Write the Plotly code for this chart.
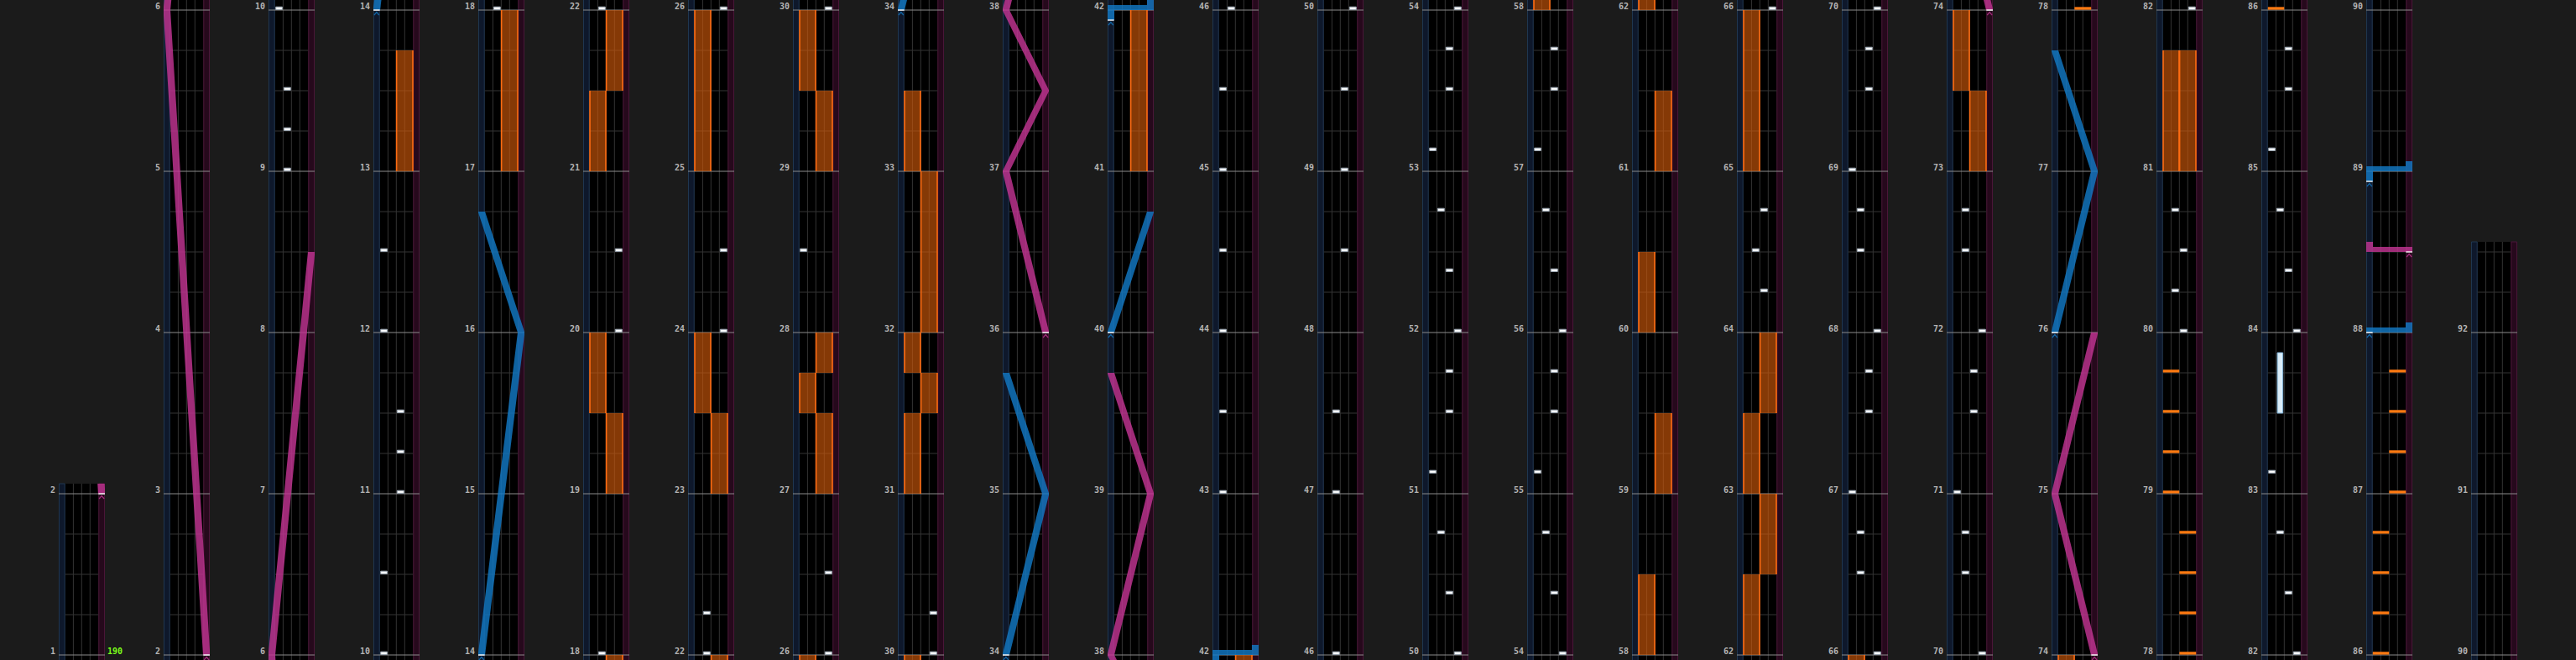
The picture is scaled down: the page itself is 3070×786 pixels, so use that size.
import plotly.graph_objects as go

# ------------------------------------------------------------------ data
col_first = [1, 2, 6, 10, 14, 18, 22, 26, 30, 34, 38, 42, 46, 50, 54, 58, 62, 66, 70, 74, 78, 82, 86, 90]
col_last = [2, 6, 10, 14, 18, 22, 26, 30, 34, 38, 42, 46, 50, 54, 58, 62, 66, 70, 74, 78, 82, 86, 90, 92]
col_lane_top = [2.0625] + [None] * 22 + [92.5625]

bpm_changes = [(1.0, "190")]

bt_chips = [
    (9.0, "B"), (9.25, "B"), (9.5, "B"), (10.0, "A"),
    (10.5, "A"), (11.0, "C"), (11.25, "C"), (11.5, "C"), (12.0, "A"), (12.5, "A"),
    (18.0, "B"), (20.0, "D"), (20.5, "D"), (22.0, "B"), (22.25, "B"),
    (24.0, "D"), (24.5, "D"),
    (26.0, "D"), (26.5, "D"), (28.5, "A"), (30.0, "D"), (30.25, "D"),
    (43.0, "A"), (43.5, "A"), (44.0, "A"), (44.5, "A"),
    (45.0, "A"), (45.5, "A"), (46.0, "B"),
    (47.0, "B"), (47.5, "B"), (48.5, "C"), (49.0, "C"), (49.5, "C"), (50.0, "D"),
    (50.375, "C"), (50.75, "B"), (51.125, "A"), (51.5, "C"), (51.75, "C"), (52.0, "D"),
    (52.375, "C"), (52.75, "B"), (53.125, "A"), (53.5, "C"), (53.75, "C"), (54.0, "D"),
    (54.375, "C"), (54.75, "B"), (55.125, "A"), (55.5, "C"), (55.75, "C"), (56.0, "D"),
    (56.375, "C"), (56.75, "B"), (57.125, "A"), (57.5, "C"), (57.75, "C"),
    (64.25, "C"), (64.5, "B"), (64.75, "C"), (66.0, "D"),
    (66.5, "B"), (66.75, "B"), (67.0, "A"), (67.5, "C"), (67.75, "C"), (68.0, "D"),
    (68.5, "B"), (68.75, "B"), (69.0, "A"), (69.5, "C"), (69.75, "C"), (70.0, "D"),
    (70.5, "B"), (70.75, "B"), (71.0, "A"), (71.5, "C"), (71.75, "C"), (72.0, "D"),
    (72.5, "B"), (72.75, "B"),
    (80.0, "C"), (80.25, "B"), (80.5, "C"), (80.75, "B"),
    (82.0, "D"), (82.375, "C"), (82.75, "B"), (83.125, "A"), (84.0, "D"),
    (84.375, "C"), (84.75, "B"), (85.125, "A"), (85.5, "C"), (85.75, "C"),
]
fx_chips = [
    (78.0, "R"), (78.25, "R"), (78.5, "R"), (78.75, "R"),
    (79.0, "L"), (79.25, "L"), (79.5, "L"), (79.75, "L"),
    (86.0, "L"), (86.25, "L"), (86.5, "L"), (86.75, "L"),
    (87.0, "R"), (87.25, "R"), (87.5, "R"), (87.75, "R"),
]
bt_holds = [(83.5, 83.875, "B")]
fx_holds = [
    (13.0, 13.75, "R"), (17.0, 18.0, "R"), (19.0, 19.5, "R"), (19.5, 20.0, "L"),
    (21.0, 21.5, "L"), (21.5, 22.0, "R"), (23.0, 23.5, "R"), (23.5, 24.0, "L"),
    (25.0, 26.0, "L"), (27.0, 27.5, "R"), (27.5, 27.75, "L"), (27.75, 28.0, "R"),
    (29.0, 29.5, "R"), (29.5, 30.0, "L"),
    (31.0, 31.5, "L"), (31.5, 31.75, "R"), (31.75, 32.0, "L"), (32.0, 33.0, "R"),
    (33.0, 33.5, "L"), (41.0, 42.0, "R"),
    (58.0, 58.5, "L"), (59.0, 59.5, "R"), (60.0, 60.5, "L"), (61.0, 61.5, "R"),
    (62.0, 62.5, "L"), (62.5, 63.0, "R"), (63.0, 63.5, "L"), (63.5, 64.0, "R"),
    (65.0, 66.0, "L"), (73.0, 73.5, "R"), (73.5, 74.0, "L"),
    (81.0, 81.75, "L"), (81.0, 81.75, "R"),
]
laser_left = [
    [(14.0, 0.0), (16.0, 1.0), (16.75, 0.0)],
    [(34.0, 0.0), (35.0, 1.0), (35.75, 0.0)],
    [(40.0, 0.0), (40.75, 1.0)],
    [(41.9375, 0.0), (42.0, 0.0), (42.0, 1.0), (42.0625, 1.0)],
    [(76.0, 0.0), (77.0, 1.0), (77.75, 0.0)],
    [(88.0, 0.0), (88.0, 1.0), (88.0625, 1.0)],
    [(88.9375, 0.0), (89.0, 0.0), (89.0, 1.0), (89.0625, 1.0)],
]
laser_right = [
    [(2.0, 1.0), (6.0, 0.0), (8.5, 1.0)],
    [(36.0, 1.0), (37.0, 0.0), (37.5, 1.0), (38.0, 0.0), (39.0, 1.0), (39.75, 0.0)],
    [(74.0, 1.0), (75.0, 0.0), (76.0, 1.0)],
    [(88.5, 1.0), (88.5, 0.0), (88.5625, 0.0)],
]

# ------------------------------------------------------------------ layout constants
W, H = 3070, 786
COL_X0, COL_STEP, COL_W = 70, 125, 55
BASE_Y, PXM = 780, 192           # pixel row of a column's first measure, pixels per measure
XR = 5.5                          # x units across a column (1 unit = one BT lane)
BT_EDGES = [0.77, 1.74, 2.73, 3.73, 4.73]
LANE_IDX = {"A": 0, "B": 1, "C": 2, "D": 3}
FX_SPAN = {"L": (0.80, 2.70), "R": (2.76, 4.70)}
LASER_XL, LASER_XR, LASER_HW = 0.385, 5.115, 0.42
BG = "#1b1b1b"
BLUE = "#1279c4"
PINK = "#c23592"


def px(n):
    return n / PXM


def laser_x(v):
    return LASER_XL + v * (LASER_XR - LASER_XL)


def poly_trace(polys, fill, line_color, line_width, xa, ya, opacity=1.0):
    xs, ys = [], []
    for p in polys:
        for x, y in p + [p[0]]:
            xs.append(x)
            ys.append(y)
        xs.append(None)
        ys.append(None)
    return go.Scatter(x=xs, y=ys, mode="lines", fill="toself", fillcolor=fill,
                      line=dict(color=line_color, width=line_width), opacity=opacity,
                      xaxis=xa, yaxis=ya, hoverinfo="skip", showlegend=False)


def line_trace(segs, color, width, xa, ya, opacity=1.0):
    xs, ys = [], []
    for s in segs:
        for x, y in s:
            xs.append(x)
            ys.append(y)
        xs.append(None)
        ys.append(None)
    return go.Scatter(x=xs, y=ys, mode="lines", line=dict(color=color, width=width),
                      opacity=opacity, xaxis=xa, yaxis=ya, hoverinfo="skip", showlegend=False)


def laser_geometry(section, lo, hi):
    polys = []
    for (t0, v0), (t1, v1) in zip(section, section[1:]):
        x0, x1 = laser_x(v0), laser_x(v1)
        if t1 == t0:
            if lo <= t0 <= hi:
                a, b = min(x0, x1) - LASER_HW, max(x0, x1) + LASER_HW
                polys.append([(a, t0), (b, t0), (b, t0 + px(6)), (a, t0 + px(6))])
        else:
            a, b = max(t0, lo), min(t1, hi)
            if a >= b:
                continue
            xa_ = x0 + (x1 - x0) * (a - t0) / (t1 - t0)
            xb_ = x0 + (x1 - x0) * (b - t0) / (t1 - t0)
            polys.append([(xa_ - LASER_HW, a), (xa_ + LASER_HW, a),
                          (xb_ + LASER_HW, b), (xb_ - LASER_HW, b)])
    return polys


fig = go.Figure()
layout = dict(width=W, height=H, margin=dict(l=0, r=0, t=0, b=0),
              paper_bgcolor=BG, plot_bgcolor=BG, showlegend=False)
shapes, annotations = [], []

for k, first in enumerate(col_first):
    i = k + 1
    xa, ya = ("x", "y") if i == 1 else (f"x{i}", f"y{i}")
    xkey, ykey = ("xaxis", "yaxis") if i == 1 else (f"xaxis{i}", f"yaxis{i}")
    d0 = (COL_X0 + COL_STEP * k) / W
    ylo = first - px(H - BASE_Y)
    yhi = first + px(BASE_Y)
    layout[xkey] = dict(domain=[d0, d0 + COL_W / W], range=[0, XR], visible=False,
                        fixedrange=True, anchor=ya)
    layout[ykey] = dict(domain=[0, 1], range=[ylo, yhi], visible=False,
                        fixedrange=True, anchor=xa)
    top = col_lane_top[k] if col_lane_top[k] is not None else yhi + 0.1
    bot = ylo - 0.1
    # lane backgrounds
    shapes.append(dict(type="rect", xref=xa, yref=ya, x0=BT_EDGES[0], x1=BT_EDGES[-1],
                       y0=bot, y1=top, fillcolor="#000000", line_width=0, layer="below"))
    shapes.append(dict(type="rect", xref=xa, yref=ya, x0=0.05, x1=BT_EDGES[0] - 0.05,
                       y0=bot, y1=top, fillcolor="#0e182b",
                       line=dict(color="#1f3650", width=1), layer="below"))
    shapes.append(dict(type="rect", xref=xa, yref=ya, x0=BT_EDGES[-1] + 0.05, x1=XR - 0.05,
                       y0=bot, y1=top, fillcolor="#26091c",
                       line=dict(color="#4a1638", width=1), layer="below"))
    # beat grid + lane dividers
    segs = []
    q = first * 4 - 4
    while q <= first * 4 + 20:
        t = q / 4
        if q % 4 != 0 and ylo <= t <= top:
            segs.append([(BT_EDGES[0], t), (BT_EDGES[-1], t)])
        q += 1
    for e in BT_EDGES[1:-1]:
        segs.append([(e, bot), (e, top)])
    fig.add_trace(line_trace(segs, "#343434", 1, xa, ya))
    # measure lines + labels
    msegs = []
    for m in range(first, col_last[k] + 1):
        msegs.append([(0, m), (XR, m)])
        annotations.append(dict(xref=xa, yref=ya, x=0, y=m, xanchor="right", yanchor="middle",
                                xshift=-2, yshift=5, showarrow=False, text=f"<b>{m}</b>",
                                font=dict(family="DejaVu Sans Mono", size=10, color="#b4b4b4")))
    fig.add_trace(line_trace(msegs, "#8c8c8c", 1.2, xa, ya))

    lo, hi = ylo - 0.1, min(top, yhi + 0.1)

    def vis(t0, t1=None):
        t1 = t0 if t1 is None else t1
        return t1 >= lo and t0 <= hi

    # FX holds
    polys, borders = [], []
    for s, e, side in fx_holds:
        if vis(s, e):
            a, b = FX_SPAN[side]
            polys.append([(a, s), (b, s), (b, e), (a, e)])
            borders.append([(a, s), (a, e)])
            borders.append([(b, s), (b, e)])
    if polys:
        fig.add_trace(poly_trace(polys, "rgba(214,92,10,0.62)", "rgba(0,0,0,0)", 0, xa, ya))
        fig.add_trace(line_trace(borders, "#ff6c12", 1.6, xa, ya))
    # BT holds
    polys = []
    for s, e, lane in bt_holds:
        if vis(s, e):
            c = (BT_EDGES[LANE_IDX[lane]] + BT_EDGES[LANE_IDX[lane] + 1]) / 2
            polys.append([(c - 0.33, s), (c + 0.33, s), (c + 0.33, e), (c - 0.33, e)])
    if polys:
        fig.add_trace(poly_trace(polys, "#d8ecf8", "#7fb2d8", 1, xa, ya))
    # FX chips
    polys = []
    for t, side in fx_chips:
        if vis(t):
            a, b = FX_SPAN[side]
            polys.append([(a, t + px(0.7)), (b, t + px(0.7)), (b, t + px(3.4)), (a, t + px(3.4))])
    if polys:
        fig.add_trace(poly_trace(polys, "#ff7a12", "#ff7a12", 0.5, xa, ya))
    # BT chips
    polys = []
    for t, lane in bt_chips:
        if vis(t):
            j = LANE_IDX[lane]
            a, b = BT_EDGES[j] + 0.1, BT_EDGES[j + 1] - 0.1
            polys.append([(a, t + px(0.6)), (b, t + px(0.6)), (b, t + px(3.8)), (a, t + px(3.8))])
    if polys:
        fig.add_trace(poly_trace(polys, "#ffffff", "#9aa6b2", 1, xa, ya))
    # lasers
    for sections, col in ((laser_left, BLUE), (laser_right, PINK)):
        polys, marks, chev = [], [], []
        for sec in sections:
            polys += laser_geometry(sec, lo, hi)
            t0, v0 = sec[0]
            if lo <= t0 <= hi:
                x0 = laser_x(v0)
                marks.append([(x0 - 0.38, t0), (x0 + 0.38, t0)])
                chev.append([(x0 - 0.3, t0 - px(6)), (x0, t0 - px(2.5)), (x0 + 0.3, t0 - px(6))])
        if polys:
            fig.add_trace(poly_trace(polys, col, col, 0, xa, ya, opacity=0.82))
        if marks:
            fig.add_trace(line_trace(chev, col, 1.2, xa, ya, opacity=0.8))
            fig.add_trace(line_trace(marks, "#ffffff", 1.4, xa, ya))
    # BPM labels
    for t, txt in bpm_changes:
        if first <= t <= col_last[k]:
            annotations.append(dict(xref=xa, yref=ya, x=XR, y=t, xanchor="left", yanchor="middle",
                                    xshift=1, yshift=5, showarrow=False, text=f"<b>{txt}</b>",
                                    font=dict(family="DejaVu Sans Mono", size=10, color="#7cff1a")))

layout["shapes"] = shapes
layout["annotations"] = annotations
fig.update_layout(**layout)
fig.write_html(
    "out.html",
    config={"displayModeBar": False, "staticPlot": True},
    post_script="document.body.style.margin='0';document.body.style.overflow='hidden';"
                "document.body.style.background='" + BG + "';",
)
